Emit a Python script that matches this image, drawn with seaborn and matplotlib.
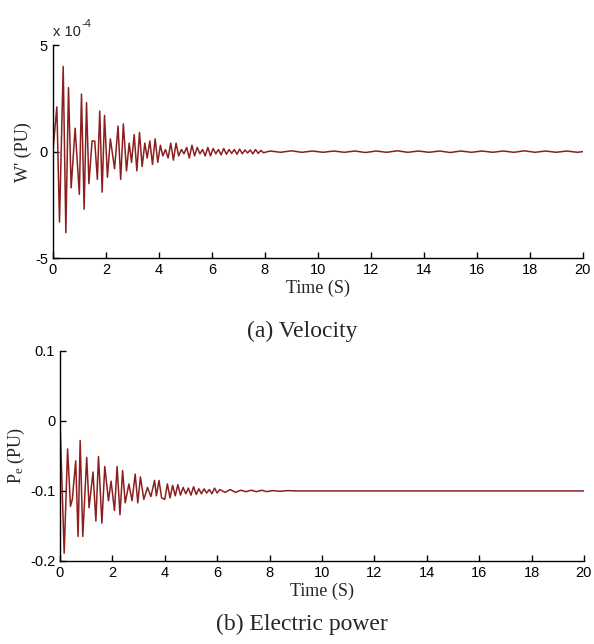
import pandas as pd
import seaborn as sns
import matplotlib.pyplot as plt

# (a) Velocity deviation, units of 1e-4 PU (extrema)
vel_t = [0.00, 0.15, 0.25, 0.39, 0.49, 0.59, 0.69, 0.84, 1.00, 1.08,
         1.18, 1.27, 1.36, 1.48, 1.58, 1.68, 1.77, 1.86, 1.95, 2.06,
         2.17, 2.33, 2.46, 2.56, 2.66, 2.78, 2.88, 2.97, 3.07, 3.17,
         3.27, 3.37, 3.47, 3.56, 3.66, 3.76, 3.86, 3.96, 4.06, 4.15,
         4.25, 4.35, 4.45, 4.55, 4.65, 4.75, 4.85, 4.95, 5.05, 5.15,
         5.25, 5.35, 5.45, 5.55, 5.65, 5.75, 5.85, 5.95, 6.05, 6.15,
         6.25, 6.35, 6.45, 6.55, 6.65, 6.75, 6.85, 6.95, 7.05, 7.15,
         7.25, 7.35, 7.45, 7.55, 7.65, 7.75, 7.85, 7.95,
         8.2, 8.6, 9.0, 9.4, 9.8, 10.2, 10.6, 11.0, 11.4, 11.8,
         12.2, 12.6, 13.0, 13.4, 13.8, 14.2, 14.6, 15.0, 15.4, 15.8,
         16.2, 16.6, 17.0, 17.4, 17.8, 18.2, 18.6, 19.0, 19.4, 19.8, 20.0]
vel_w = [0.0, 2.1, -3.3, 4.0, -3.8, 3.0, -1.7, 1.1, -2.0, 2.7,
         -2.7, 2.3, -1.5, 0.5, 0.5, -1.3, 1.9, -1.9, 1.7, -1.2,
         0.6, -0.8, 1.2, -1.3, 1.3, -0.9, 0.4, -0.5, 0.8, -0.9,
         0.9, -0.7, 0.4, -0.3, 0.5, -0.6, 0.6, -0.5, 0.3, -0.2,
         0.1, -0.3, 0.4, -0.4, 0.4, -0.2, 0.1, -0.1, 0.2, -0.3,
         0.3, -0.2, 0.2, -0.1, 0.1, -0.2, 0.2, -0.2, 0.15, -0.1,
         0.1, -0.15, 0.15, -0.12, 0.1, -0.08, 0.1, -0.12, 0.12, -0.1,
         0.08, -0.06, 0.08, -0.1, 0.1, -0.08, 0.06, -0.05,
         0.03, -0.03, 0.04, -0.03, 0.03, -0.03, 0.03, -0.03, 0.03, -0.04,
         0.03, -0.03, 0.04, -0.03, 0.03, -0.03, 0.03, -0.04, 0.03, -0.03,
         0.03, -0.03, 0.03, -0.03, 0.04, -0.03, 0.03, -0.03, 0.03, -0.03, 0.0]

# (b) Electric power, PU
pe_t = [0.00, 0.16, 0.29, 0.40, 0.47, 0.60, 0.69, 0.77, 0.87, 1.02,
        1.11, 1.26, 1.37, 1.47, 1.60, 1.71, 1.85, 1.95, 2.08, 2.18,
        2.29, 2.39, 2.49, 2.63, 2.75, 2.87, 2.97, 3.07, 3.20, 3.34,
        3.47, 3.61, 3.68, 3.78, 3.88, 4.00, 4.10, 4.20, 4.30, 4.40,
        4.50, 4.60, 4.70, 4.80, 4.90, 5.00, 5.10, 5.20, 5.30, 5.40,
        5.50, 5.60, 5.70, 5.80, 5.90, 6.00, 6.10, 6.30, 6.50, 6.70,
        6.90, 7.10, 7.30, 7.50, 7.70, 7.90, 8.10, 8.40, 8.70, 9.00, 20.0]
pe_p = [0.0, -0.189, -0.040, -0.122, -0.112, -0.057, -0.165, -0.028, -0.165, -0.052,
        -0.124, -0.073, -0.143, -0.051, -0.146, -0.065, -0.114, -0.086, -0.128, -0.065,
        -0.134, -0.071, -0.117, -0.090, -0.114, -0.076, -0.117, -0.080, -0.112, -0.095,
        -0.108, -0.085, -0.107, -0.085, -0.110, -0.112, -0.090, -0.110, -0.092, -0.107,
        -0.091, -0.106, -0.095, -0.104, -0.096, -0.106, -0.094, -0.105, -0.097, -0.104,
        -0.097, -0.103, -0.098, -0.104, -0.096, -0.103, -0.098, -0.102, -0.098, -0.102,
        -0.099, -0.101, -0.099, -0.101, -0.099, -0.101, -0.0995, -0.1005, -0.0995, -0.100, -0.100]

vel_df = pd.DataFrame({'t': vel_t, 'w': vel_w})
pe_df = pd.DataFrame({'t': pe_t, 'p': pe_p})

sns.set_style('ticks')
plt.rcParams['font.family'] = ['Liberation Sans', 'DejaVu Sans']
plt.rcParams['axes.unicode_minus'] = False
plt.rcParams['mathtext.fontset'] = 'custom'
plt.rcParams['mathtext.rm'] = 'Liberation Serif'
plt.rcParams['mathtext.it'] = 'Liberation Serif:italic'

line_color = '#8b1f1f'
serif = ['Liberation Serif', 'DejaVu Serif']

fig = plt.figure(figsize=(5.94, 6.44), dpi=100)
ax1 = fig.add_axes([0.089, 0.599, 0.892, 0.331])
ax2 = fig.add_axes([0.101, 0.129, 0.882, 0.326])

sns.lineplot(data=vel_df, x='t', y='w', ax=ax1, color=line_color, linewidth=1.1)
sns.lineplot(data=pe_df, x='t', y='p', ax=ax2, color=line_color, linewidth=1.1)

for ax in (ax1, ax2):
    ax.set_xlim(0, 20)
    ax.set_xticks(range(0, 21, 2))
    ax.spines['top'].set_visible(False)
    ax.spines['right'].set_visible(False)
    for s in ('left', 'bottom'):
        ax.spines[s].set_color('black')
        ax.spines[s].set_linewidth(1.0)
    ax.tick_params(direction='in', length=4, width=1, labelsize=10.5, colors='black')
    ax.set_xlabel('Time (S)', family=serif, fontsize=13, labelpad=2)

ax1.set_ylim(-5, 5)
ax1.set_yticks([-5, 0, 5])
ax1.set_ylabel("W' (PU)", family=serif, fontsize=13, labelpad=2)
ax1.text(0.0, 1.03, 'x 10', transform=ax1.transAxes, fontsize=10.5, ha='left', va='bottom')
ax1.text(0.054, 1.075, '-4', transform=ax1.transAxes, fontsize=8, ha='left', va='bottom')

ax2.set_ylim(-0.2, 0.1)
ax2.set_yticks([-0.2, -0.1, 0, 0.1])
ax2.set_yticklabels(['-0.2', '-0.1', '0', '0.1'])
ax2.set_ylabel(r'P$_{\rm e}$ (PU)', family=serif, fontsize=13, labelpad=2)

fig.text(0.508, 0.485, '(a) Velocity', family=serif, fontsize=17, ha='center', va='center')
fig.text(0.508, 0.030, '(b) Electric power', family=serif, fontsize=17, ha='center', va='center')

plt.savefig('out.png', dpi=100)
